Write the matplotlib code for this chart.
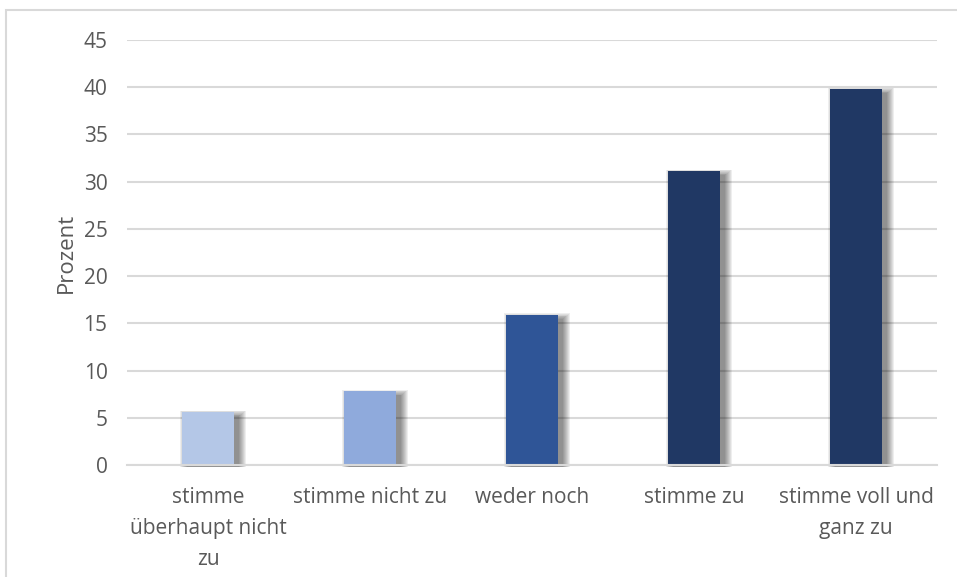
import matplotlib.pyplot as plt
from matplotlib.patches import Rectangle

categories = ["stimme\nüberhaupt nicht\nzu", "stimme nicht zu", "weder noch",
              "stimme zu", "stimme voll und\nganz zu"]
values = [5.6, 7.8, 15.9, 31.1, 39.8]
colors = ["#B4C7E7", "#8FAADC", "#2F5597", "#203864", "#203864"]
yticks = [0, 5, 10, 15, 20, 25, 30, 35, 40, 45]

plt.rcParams['font.family'] = ['Open Sans', 'DejaVu Sans']
text_color = "#595959"

fig = plt.figure(figsize=(9.57, 5.77), dpi=100)
W, H = 957, 577

# outer chart frame (runs off the right and bottom edge)
fig.patches.append(Rectangle((6 / W, -0.1), 1.2, 1 - 10 / H + 0.1,
                             transform=fig.transFigure, fill=False,
                             edgecolor="#D9D9D9", linewidth=1.5))

ax = fig.add_axes([127 / W, 1 - 465 / H, (937 - 127) / W, (465 - 40) / H])
ax.set_xlim(-0.5, 4.5)
ax.set_ylim(0, 45)

bar_w = 0.315
px_x = (937 - 127) / 5.0   # pixels per x unit
px_y = (465 - 40) / 45.0   # pixels per y unit

x = range(len(values))

# soft drop shadow: stacked translucent rectangles, offset to the right
for xi, v in zip(x, values):
    for k in range(8):
        s = k * 1.0
        ax.add_patch(Rectangle(
            (xi - bar_w / 2 + (5 - s) / px_x, -0.25),
            bar_w + (2 * s) / px_x,
            v + 0.25 - (4 - s * 0.8) / px_y,
            facecolor="black", alpha=0.065, linewidth=0, zorder=2,
            clip_on=False))

ax.bar(x, values, width=bar_w, color=colors, zorder=3)

ax.set_yticks(yticks)
ax.yaxis.grid(True, color="#D9D9D9", linewidth=1.5)
ax.set_axisbelow(True)
for side in ["top", "right", "left"]:
    ax.spines[side].set_visible(False)
ax.spines["bottom"].set_color("#D9D9D9")
ax.spines["bottom"].set_linewidth(1.5)
ax.spines["bottom"].set_zorder(4)

ax.set_xticks(list(x))
ax.set_xticklabels(categories, linespacing=1.62)
ax.tick_params(axis="both", length=0, labelsize=15, colors=text_color)
ax.tick_params(axis="y", pad=14)
ax.tick_params(axis="x", pad=16)

ax.set_ylabel("Prozent", fontsize=16, color=text_color, labelpad=5)

fig.savefig("out.png", dpi=100)
